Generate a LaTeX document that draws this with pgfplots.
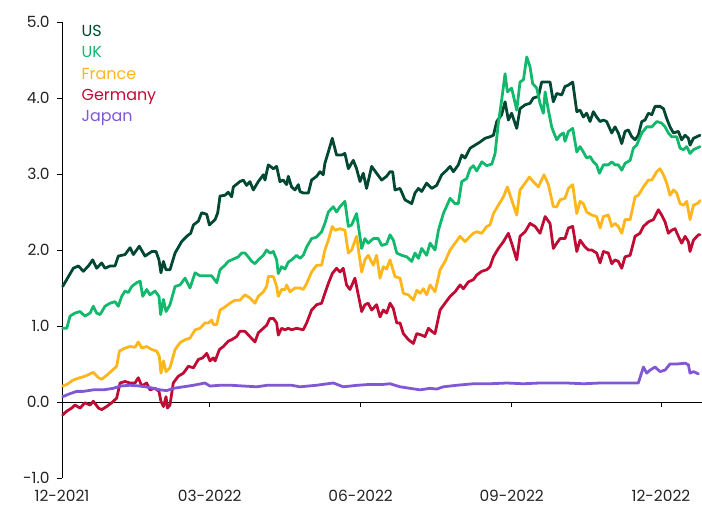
\documentclass[border=0pt]{standalone}
\usepackage{pgfplots}
\pgfplotsset{compat=1.18}
\usepackage{fontspec}
\setmainfont{Poppins}
\definecolor{usc}{RGB}{0,72,50}
\definecolor{ukc}{RGB}{18,184,108}
\definecolor{frc}{RGB}{255,182,28}
\definecolor{dec}{RGB}{190,12,52}
\definecolor{jpc}{RGB}{128,88,212}
\definecolor{txt}{RGB}{35,35,35}
\begin{document}
\begin{tikzpicture}
\useasboundingbox (-62bp,-40bp) rectangle (640bp,478bp);
\begin{axis}[
  at={(0,0)}, anchor=south west,
  scale only axis, width=640bp, height=456bp,
  xmin=0, xmax=390, ymin=-1, ymax=5,
  axis y line*=left, axis x line*=bottom,
  x axis line style={draw=none},
  y axis line style={black, line width=0.8pt},
  xtick={0,90,182,274,365},
  xticklabels={12-2021,03-2022,06-2022,09-2022,12-2022},
  ytick={-1,0,1,2,3,4,5},
  yticklabels={-1.0,0.0,1.0,2.0,3.0,4.0,5.0},
  xtick style={draw=none},
  ytick style={black, line width=0.8pt},
  tick align=outside, major tick length=5bp,
  tick label style={font=\fontsize{15.5}{18}\selectfont, text=txt},
  xticklabel style={yshift=-4bp},
  yticklabel style={xshift=-4bp},
  legend image code/.code={},
  legend cell align=left,
  legend style={draw=none, fill=none, at={(rel axis cs:0.028,0.997)}, anchor=north west,
    font=\fontsize{16}{18}\selectfont, row sep=3.3bp, inner sep=0pt,
    nodes={inner sep=1.5bp, text height=11.5bp, text depth=3.5bp}},
  every axis plot/.append style={line width=2.8pt, line join=round, line cap=round},
  clip=false,
]
\draw[black, line width=0.8pt] (axis cs:0,0) -- (axis cs:390,0);
\pgfplotsinvokeforeach{90,182,274,365}{\draw[black, line width=0.8pt] (axis cs:#1,0) -- ([yshift=-5bp]axis cs:#1,0);}
% US
\addplot[usc] table {
0.4 1.52
6.9 1.76
10.0 1.79
13.0 1.72
16.1 1.79
18.7 1.87
21.1 1.76
24.2 1.83
26.2 1.76
29.3 1.79
32.3 1.79
34.3 1.92
38.4 1.94
41.5 2.03
43.5 1.94
47.1 2.05
50.6 1.92
54.7 1.98
57.3 1.98
59.1 1.87
60.3 1.70
61.8 1.85
63.4 1.74
65.8 1.74
68.9 1.96
72.9 2.11
76.0 2.18
78.4 2.22
80.1 2.33
83.1 2.38
85.1 2.49
88.2 2.47
89.8 2.33
93.3 2.40
94.9 2.49
96.3 2.71
99.3 2.72
101.3 2.76
103.4 2.70
104.4 2.83
108.4 2.90
110.5 2.92
112.5 2.85
114.5 2.90
116.6 2.79
119.6 2.90
122.7 2.99
123.7 2.92
125.7 3.12
128.8 3.07
130.8 3.10
132.8 2.90
134.8 2.92
136.9 2.86
137.9 2.97
139.9 2.83
142.0 2.79
144.0 2.86
145.0 2.77
147.0 2.75
150.1 2.75
152.1 2.92
155.2 2.97
157.2 3.03
159.2 2.99
160.2 3.14
162.3 3.29
164.7 3.47
167.3 3.25
170.4 3.25
172.4 3.27
174.5 3.07
177.5 3.18
179.5 3.07
181.6 2.90
183.6 3.01
185.6 2.81
188.7 3.10
191.7 3.01
194.8 2.92
197.8 2.97
199.9 3.03
201.5 3.03
202.9 2.79
206.0 2.81
209.0 2.66
213.1 2.61
215.1 2.75
217.2 2.81
219.2 2.77
222.2 2.88
225.3 2.81
228.3 2.85
231.4 2.99
234.4 3.05
236.5 3.10
238.5 3.03
241.5 3.12
243.6 3.25
245.6 3.21
248.7 3.34
251.7 3.38
254.7 3.42
257.8 3.47
260.8 3.49
262.9 3.51
264.9 3.69
267.9 3.78
270.0 3.95
272.0 3.71
274.0 3.80
277.1 3.60
279.1 3.86
282.2 3.91
285.2 3.93
287.2 4.00
290.3 4.02
292.3 4.21
295.4 4.21
297.4 4.21
299.4 3.95
301.5 4.06
304.5 4.04
306.5 4.15
308.6 4.17
311.2 4.21
313.7 3.82
315.7 3.84
317.7 3.75
319.7 3.80
321.8 3.69
323.8 3.82
325.8 3.75
327.9 3.69
329.9 3.71
331.9 3.69
335.0 3.54
337.0 3.62
339.0 3.54
341.1 3.40
343.1 3.56
345.1 3.58
347.2 3.49
349.2 3.45
351.2 3.51
353.3 3.69
355.3 3.71
357.3 3.80
359.4 3.78
361.4 3.89
364.4 3.89
366.5 3.86
368.5 3.73
370.5 3.62
372.6 3.54
375.6 3.56
377.6 3.45
379.7 3.51
381.7 3.47
382.7 3.38
384.8 3.47
386.8 3.49
388.8 3.51
};
\addlegendentry{\textcolor{usc}{US}}
% UK
\addplot[ukc] table {
0.4 0.97
2.9 0.97
4.9 1.13
7.9 1.17
11.0 1.19
14.0 1.13
17.1 1.17
19.1 1.26
21.1 1.17
23.2 1.15
26.2 1.26
29.3 1.30
32.3 1.32
34.3 1.26
36.4 1.39
38.4 1.46
40.4 1.44
42.5 1.52
45.5 1.57
47.6 1.59
49.2 1.39
51.6 1.48
53.6 1.41
56.7 1.46
59.1 1.39
60.1 1.15
61.8 1.35
63.4 1.19
65.8 1.28
68.9 1.52
71.9 1.54
75.0 1.63
78.0 1.50
81.1 1.70
84.1 1.66
88.2 1.66
91.2 1.66
94.3 1.57
96.3 1.74
99.3 1.80
101.3 1.85
103.4 1.87
107.4 1.91
109.5 1.96
111.5 1.96
113.5 1.91
115.6 1.85
117.6 1.82
119.6 1.87
122.7 1.93
124.7 2.00
126.7 1.96
128.8 1.98
130.8 1.87
131.8 1.69
133.8 1.78
135.9 1.75
137.9 1.84
139.9 1.87
143.0 1.93
145.0 1.89
147.0 1.93
149.1 2.04
152.1 2.15
155.2 2.17
158.2 2.24
160.2 2.35
162.3 2.50
165.3 2.57
167.3 2.50
169.4 2.57
172.4 2.64
174.5 2.31
176.5 2.33
179.5 2.48
182.6 2.02
184.6 2.15
186.6 2.09
189.7 2.15
192.7 2.15
194.8 2.06
197.8 2.08
199.9 2.20
201.9 2.13
204.0 1.96
207.0 1.93
210.1 1.91
213.1 1.85
215.1 1.96
217.2 1.89
219.2 2.02
222.2 1.93
224.3 2.09
227.3 2.00
229.4 2.26
232.4 2.48
236.5 2.68
239.5 2.61
241.5 2.61
243.6 2.90
246.6 2.94
248.7 3.07
250.7 3.11
252.7 3.04
255.8 3.16
258.8 3.11
261.9 3.13
263.9 3.27
265.9 3.67
267.9 3.97
270.0 4.32
271.4 4.08
274.0 4.13
277.1 3.84
279.1 4.21
281.2 4.24
283.2 4.54
285.2 4.41
286.8 4.19
289.3 4.13
291.3 3.93
293.3 3.80
294.4 4.08
296.4 3.84
298.4 3.62
299.4 3.56
301.5 3.45
303.5 3.51
305.5 3.54
306.5 3.43
308.6 3.56
311.2 3.60
313.7 3.29
315.7 3.36
317.7 3.29
319.7 3.21
321.8 3.23
323.8 3.16
325.8 3.12
327.5 3.01
329.9 3.12
332.9 3.12
335.0 3.16
337.0 3.12
339.0 3.12
341.1 3.05
343.1 3.14
346.2 3.18
348.2 3.34
350.2 3.38
353.3 3.54
356.3 3.62
359.4 3.62
362.4 3.69
365.4 3.67
367.5 3.62
369.5 3.54
371.5 3.49
374.6 3.49
376.6 3.34
378.7 3.32
380.7 3.36
382.7 3.27
384.8 3.32
386.8 3.34
388.8 3.36
};
\addlegendentry{\textcolor{ukc}{UK}}
% France
\addplot[frc] table {
0.4 0.21
2.9 0.23
6.9 0.29
11.0 0.32
14.0 0.34
19.1 0.39
22.2 0.32
24.2 0.30
27.2 0.35
31.3 0.43
33.3 0.47
35.0 0.67
38.4 0.71
41.5 0.73
44.5 0.72
46.5 0.79
48.6 0.71
51.6 0.73
54.7 0.69
57.7 0.67
59.3 0.60
60.3 0.38
61.8 0.54
63.4 0.40
65.8 0.45
68.9 0.69
71.9 0.78
75.0 0.82
78.0 0.84
81.1 0.95
84.1 0.97
87.1 1.04
89.2 1.04
91.2 1.08
92.2 1.02
94.3 1.02
96.3 1.21
99.3 1.25
102.3 1.30
105.4 1.34
108.4 1.34
111.5 1.41
114.5 1.37
117.6 1.30
119.6 1.39
122.7 1.45
124.7 1.52
125.7 1.65
128.8 1.65
130.8 1.52
131.8 1.39
133.8 1.48
135.9 1.48
136.9 1.54
138.9 1.45
142.0 1.50
145.0 1.50
147.0 1.48
149.1 1.56
152.1 1.71
155.2 1.80
158.2 1.80
160.2 2.00
162.3 2.13
164.7 2.31
166.3 2.26
169.4 2.28
172.4 2.26
174.5 1.96
176.5 2.00
179.5 2.18
182.6 1.71
184.6 1.87
186.6 1.93
189.7 1.80
191.7 1.93
193.8 1.63
195.8 1.78
197.8 1.75
199.9 1.87
202.9 1.65
206.0 1.63
208.0 1.43
211.1 1.41
214.1 1.34
216.2 1.47
218.2 1.43
220.2 1.49
222.2 1.41
224.3 1.54
227.3 1.45
230.4 1.74
233.4 1.85
236.5 2.00
239.5 2.09
242.6 2.18
245.6 2.11
248.7 2.18
250.7 2.22
252.7 2.24
255.8 2.22
258.8 2.31
260.8 2.33
262.9 2.48
265.9 2.59
269.0 2.70
271.4 2.83
274.0 2.66
277.1 2.46
279.1 2.79
282.2 2.88
284.8 2.96
287.2 2.90
290.3 2.83
293.7 2.99
296.4 2.86
299.4 2.57
301.5 2.57
303.5 2.66
306.5 2.68
308.6 2.81
311.2 2.86
313.7 2.48
315.7 2.64
317.7 2.61
319.7 2.50
322.8 2.46
325.8 2.44
327.9 2.29
329.9 2.44
332.9 2.46
335.0 2.31
337.0 2.35
339.0 2.31
341.1 2.22
343.1 2.40
346.2 2.40
349.2 2.70
351.2 2.72
354.3 2.83
357.3 2.92
359.4 2.92
362.4 3.03
364.4 3.07
366.5 2.99
368.5 2.88
370.5 2.72
372.6 2.79
374.6 2.75
376.6 2.61
378.7 2.59
380.7 2.64
382.7 2.40
384.8 2.59
387.8 2.62
388.8 2.65
};
\addlegendentry{\textcolor{frc}{France}}
% Germany
\addplot[dec] table {
0.4 -0.17
2.9 -0.12
5.9 -0.08
7.9 -0.04
11.0 -0.08
14.0 -0.01
17.1 -0.04
19.1 0.01
22.2 -0.08
24.2 -0.10
27.2 -0.06
30.3 -0.01
33.3 0.05
35.4 0.25
38.4 0.27
41.5 0.25
44.5 0.25
46.5 0.32
48.6 0.21
51.6 0.25
53.6 0.16
56.7 0.18
59.1 0.14
60.3 0.01
61.8 -0.06
63.4 0.07
64.2 -0.08
65.8 -0.04
67.8 0.25
70.9 0.34
74.0 0.38
77.0 0.47
80.1 0.45
83.1 0.56
85.7 0.58
88.2 0.64
90.2 0.54
92.2 0.58
93.3 0.54
95.9 0.69
98.3 0.73
101.3 0.80
103.4 0.82
106.4 0.86
108.4 0.93
111.5 0.93
114.5 0.86
117.6 0.79
119.6 0.91
122.7 0.97
124.7 1.01
126.7 1.10
128.8 1.10
130.8 1.04
131.8 0.88
133.8 0.97
135.9 0.95
137.9 0.97
139.9 0.95
143.0 0.97
147.0 0.95
149.1 1.04
152.1 1.21
155.2 1.28
158.2 1.30
160.2 1.43
162.3 1.56
164.7 1.69
167.3 1.76
169.4 1.71
171.4 1.76
173.4 1.54
175.5 1.48
178.5 1.63
182.6 1.19
184.6 1.28
186.6 1.30
188.7 1.21
191.7 1.28
193.8 1.12
195.8 1.21
197.8 1.17
199.9 1.30
201.9 1.23
204.0 1.04
206.0 1.04
208.0 0.90
211.1 0.82
214.1 0.77
216.2 0.90
219.2 0.88
221.2 0.86
223.3 0.97
225.3 0.93
227.3 0.90
230.4 1.21
233.4 1.30
236.5 1.39
239.5 1.45
242.6 1.54
244.6 1.49
247.6 1.58
250.7 1.61
252.7 1.67
255.8 1.72
258.8 1.74
260.8 1.78
262.9 1.91
265.9 2.02
269.0 2.11
272.0 2.22
274.0 2.09
277.1 1.87
279.1 2.18
282.2 2.24
285.2 2.35
288.3 2.31
291.3 2.22
294.4 2.44
297.4 2.35
299.4 2.02
301.5 2.09
303.5 2.15
306.5 2.15
308.6 2.29
311.2 2.31
313.7 1.98
315.7 2.13
318.7 2.04
320.8 2.00
322.8 2.00
325.8 1.96
327.9 1.83
329.9 1.98
332.9 1.96
335.0 1.82
337.0 1.87
339.0 1.85
341.1 1.76
343.1 1.91
346.2 1.93
349.2 2.18
352.2 2.22
354.3 2.31
357.3 2.37
360.4 2.40
363.4 2.53
365.4 2.46
367.5 2.37
369.5 2.22
371.5 2.26
373.6 2.28
375.6 2.18
377.6 2.09
379.7 2.18
381.7 2.11
382.7 1.98
384.8 2.13
387.8 2.20
388.8 2.20
};
\addlegendentry{\textcolor{dec}{Germany}}
% Japan
\addplot[jpc] table {
0.4 0.07
4.9 0.11
9.0 0.14
13.0 0.14
19.1 0.16
25.2 0.16
31.3 0.18
35.4 0.21
41.5 0.22
47.6 0.21
53.6 0.19
59.7 0.16
63.8 0.15
67.9 0.18
74.0 0.20
80.1 0.22
87.1 0.25
90.2 0.21
96.3 0.22
103.0 0.22
118.6 0.20
125.0 0.22
140.0 0.22
145.0 0.20
155.0 0.22
165.3 0.25
171.4 0.20
180.0 0.22
186.6 0.23
195.0 0.23
199.9 0.24
206.0 0.20
212.0 0.18
218.2 0.16
224.3 0.18
228.3 0.17
232.4 0.20
240.5 0.22
250.7 0.24
260.8 0.24
271.0 0.25
281.0 0.24
291.0 0.25
297.4 0.25
307.6 0.25
317.7 0.24
327.9 0.25
338.0 0.25
351.2 0.25
354.3 0.46
356.3 0.38
358.4 0.42
361.4 0.46
364.4 0.40
367.5 0.42
370.5 0.50
374.6 0.50
379.7 0.51
381.7 0.49
382.7 0.38
384.8 0.40
387.8 0.37
};
\addlegendentry{\textcolor{jpc}{Japan}}
\end{axis}
\end{tikzpicture}
\end{document}
